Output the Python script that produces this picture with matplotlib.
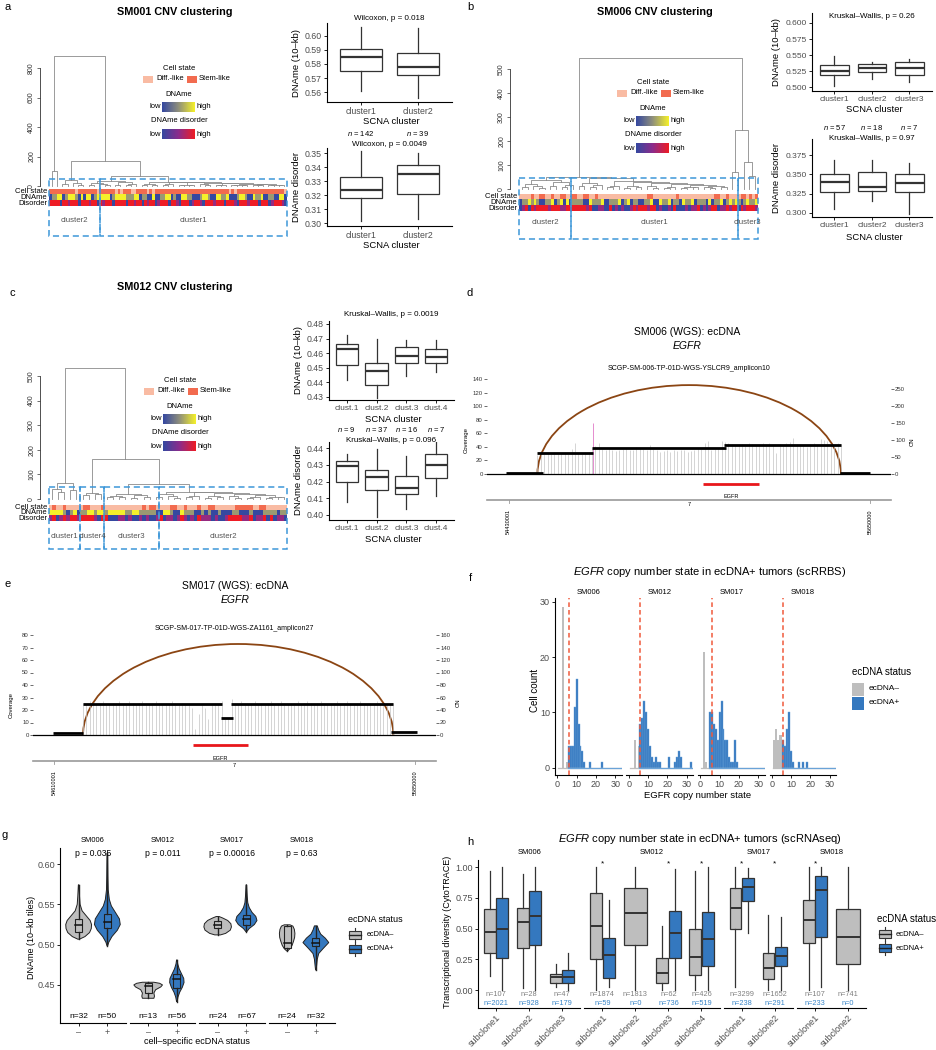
import numpy as np
import matplotlib
matplotlib.use("Agg")
import matplotlib.pyplot as plt
import matplotlib.transforms as mtrans
from matplotlib.colors import LinearSegmentedColormap, to_rgb
from matplotlib.patches import Rectangle, Arc

plt.rcParams["font.family"] = ["Liberation Sans", "DejaVu Sans"]
plt.rcParams["mathtext.fontset"] = "custom"
plt.rcParams["mathtext.rm"] = "Liberation Sans"
plt.rcParams["mathtext.it"] = "Liberation Sans:italic"

# ---------------- a-c: CNV clustering ----------------
# dendrogram node = [height, left, right], leaf = 0
a_tail = [15, [10, [6, 0, 0], [7, 0, 0]], [12, [8, 0, [5, 0, 0]], [9, [4, 0, 0], [6, 0, 0]]]]
a_ladder = [30, [12, [6, 0, 0], [9, 0, 0]],
            [27, [11, [7, 0, 0], 0],
             [24, [10, [5, 0, 0], [8, 0, 0]],
              [21, [12, 0, [6, 0, 0]],
               [18, [9, [4, 0, 0], 0], a_tail]]]]]
a_tree = [880, [105, 0, 0],
          [170, [40, [15, 0, 0], [22, 0, [9, 0, 0]]],
           [70, [33, [20, [8, 0, 0], [12, 0, [5, 0, 0]]], [26, [10, 0, 0], [14, [6, 0, 0], 0]]],
            a_ladder]]]

b_tail = [17, [10, [6, 0, 0], [7, 0, 0]], [14, [8, 0, [5, 0, 0]], [9, 0, 0]]]
b_ladder = [45, [25, [12, 0, 0], [16, [7, 0, 0], 0]],
            [32, [14, [9, 0, 0], 0],
             [28, [11, [6, 0, 0], [8, 0, 0]],
              [24, [13, 0, [5, 0, 0]],
               [20, [9, [4, 0, 0], 0], b_tail]]]]]
b_left = [38, [22, [10, 0, 0], [14, 0, [6, 0, 0]]], [30, [12, 0, 0], [18, [8, 0, 0], 0]]]
b_tree = [546, [50, b_left, b_ladder], [246, [70, 0, 0], [112, 0, [55, 0, 0]]]]

c_tail = [16, [9, [4, 0, 0], 0], [10, [6, 0, 0], [8, 0, 0]]]
c_ladder = [30, [20, [9, 0, 0], [12, 0, [5, 0, 0]]],
            [27, [14, [8, 0, 0], 0],
             [24, [11, [6, 0, 0], [7, 0, 0]],
              [20, [12, 0, [5, 0, 0]], c_tail]]]]
c_tree = [532, [65, [40, 0, [30, 0, 0]], [35, 0, 0]],
          [163, [25, [18, 0, 0], [20, 0, 0]],
           [61, [20, [14, [8, 0, 0], [10, 0, 0]], [16, [6, 0, 0], [9, 0, 0]]], c_ladder]]]

# heatmap tracks: S = stem-like, D = diff.-like; digits 0 (low) .. 9 (high)
a_state = "SSSSSSSSSS DSSSSSSSDS SSSSSDSDSS SDDSSSSDSD SSSSSSSSSS SSSSSSSSSS SSSSSSSSDS DSSSSSSSSS SSSSSSSSSD"
a_dname = "0559905999 5090990599 9990599995 5599055009 0055990500 9955000599 5009955900 0599500955 9005500990"
a_disorder = "9999099599 9099959909 5999099990 9959909599 0599909950 9990599509 9959990999 5099959990 9990599950"
b_state = "DDDDSDDSSD DSDDSSDDSS DDSSDDSDDD DDDDDDDDDD DDDDSSDDDD DDDDSDDDDD DDDDDDDSSD DSDDDDSSDS DS"
b_dname = "0559595005 5905909055 5500955590 0555905905 5005590095 5905509559 0555090559 0595950595 59"
b_disorder = "0590959999 5999559999 9995900550 0905050059 5999599050 0509000505 5905059905 5959909599 95"
c_state = "DSDDSDDDDD SSDDDSDDDD DDDDDDDSDS SDDDDSSDDS DDDSDDSSDD DDDDSSSSSD DSSDDDDDD"
c_dname = "9999505905 5995995999 9955995555 5009950095 5500505005 0005500050 005555055"
c_disorder = "5905959959 9995099000 5505005050 0590550595 0509555050 0599995590 559090550"

a_clusters = ["cluster2", "cluster1"]
a_sizes = [39, 142]
b_clusters = ["cluster2", "cluster1", "cluster3"]
b_sizes = [18, 57, 7]
c_clusters = ["cluster1", "cluster4", "cluster3", "cluster2"]
c_sizes = [9, 7, 16, 37]

a_names = ["cluster1", "cluster2"]
a_n = [142, 39]
a_dname_lo = [0.561, 0.5555]
a_dname_q1 = [0.5752, 0.5722]
a_dname_med = [0.585, 0.5779]
a_dname_q3 = [0.5905, 0.5876]
a_dname_hi = [0.6062, 0.6055]
a_dis_lo = [0.3012, 0.3031]
a_dis_q1 = [0.3179, 0.321]
a_dis_med = [0.3238, 0.335]
a_dis_q3 = [0.3326, 0.3414]
a_dis_hi = [0.3512, 0.350]

b_names = ["cluster1", "cluster2", "cluster3"]
b_n = [57, 18, 7]
b_dname_lo = [0.501, 0.513, 0.508]
b_dname_q1 = [0.519, 0.524, 0.519]
b_dname_med = [0.525, 0.530, 0.529]
b_dname_q3 = [0.534, 0.536, 0.539]
b_dname_hi = [0.549, 0.539, 0.544]
b_dis_lo = [0.305, 0.316, 0.299]
b_dis_q1 = [0.327, 0.329, 0.327]
b_dis_med = [0.340, 0.334, 0.339]
b_dis_q3 = [0.351, 0.353, 0.351]
b_dis_hi = [0.368, 0.368, 0.365]

c_names = ["clust.1", "clust.2", "clust.3", "clust.4"]
c_n = [9, 37, 16, 7]
c_dname_lo = [0.4415, 0.4295, 0.4445, 0.447]
c_dname_q1 = [0.452, 0.4385, 0.4535, 0.453]
c_dname_med = [0.4625, 0.4475, 0.458, 0.4575]
c_dname_q3 = [0.466, 0.453, 0.464, 0.463]
c_dname_hi = [0.4725, 0.470, 0.469, 0.469]
c_dis_lo = [0.4075, 0.399, 0.4035, 0.4115]
c_dis_q1 = [0.4195, 0.415, 0.4125, 0.422]
c_dis_med = [0.4295, 0.4225, 0.416, 0.430]
c_dis_q3 = [0.432, 0.427, 0.423, 0.4365]
c_dis_hi = [0.4365, 0.4395, 0.4355, 0.4445]

# ---------------- d-e: amplicon plots ----------------
d_seg_start = [54422100, 54526900, 54709400, 55156600, 55548600]
d_seg_end = [54546000, 54712800, 55162200, 55550900, 55650000]
d_seg_cn = [3, 63, 75.5, 86, 3]
d_cov_range = [54527000, 55551000]
d_cov = [28, 30, 29, 31, 30, 32, 29, 31, 33, 30, 37, 45, 31, 30, 32, 33,
         38, 41, 46, 37, 36, 38, 35, 34, 36, 37, 38, 36, 35, 40, 38, 37, 36, 43, 37, 35,
         33, 34, 36, 33, 35, 34, 36, 35, 33, 34, 36, 38, 37, 46, 48, 36, 37, 38, 49, 47,
         45, 44, 42, 43, 44, 41, 45, 44, 43, 42, 46, 44, 45, 43, 31, 44, 42, 45, 47, 53,
         44, 43, 42, 40, 44, 45, 43, 52, 50, 49, 44, 43, 45, 44]
d_arc = [54526900, 55550900]
d_arc_height = 131
d_spike_pos = 54712800
d_spike_height = 75
d_gene = [55086725, 55275031]
d_ticks = [54430001, 55650000]

e_seg_start = [54606600, 54709600, 55182500, 55216900, 55765300]
e_seg_end = [54709600, 55188200, 55224900, 55774500, 55854600]
e_seg_cn = [2.6, 49.6, 27.7, 49.6, 5.3]
e_cov_range = [54709600, 55774500]
e_cov = [26, 25, 27, 26, 25, 26, 27, 26, 25, 26, 26, 27, 25, 26, 27, 26, 25, 26, 27, 26,
         25, 26, 27, 26, 25, 26, 25, 27, 26, 24, 26, 25, 24, 22, 5, 17, 24, 22, 13, 24,
         26, 25, 27, 13, 14,
         29, 26, 25, 27, 26, 25, 26, 27, 25, 26, 24, 26, 27, 25, 26, 27, 26, 25, 26, 26,
         27, 25, 26, 27, 26, 25, 26, 27, 26, 25, 26, 26, 27, 25, 26, 27, 26, 25, 26, 27,
         26, 25, 26, 25, 27, 26, 25, 26, 25, 26]
e_arc = [54709600, 55774500]
e_arc_height = 72.8
e_gene = [55086725, 55275031]
e_ticks = [54610001, 55850000]

# ---------------- f: copy number histograms ----------------
f_samples = ["SM006", "SM012", "SM017", "SM018"]
f_neg_cn = [[3, 5, 6], [3, 5, 6], [2, 3], [1, 2, 3, 4, 5]]
f_neg_count = [[29, 1, 2], [5, 4, 4], [21, 1], [5, 7, 5, 6, 6]]
f_pos_cn = [[6, 7, 8, 9, 10, 11, 12, 13, 14, 17, 23],
            [6, 7, 8, 9, 10, 11, 12, 13, 14, 15, 16, 21, 24, 25, 26, 27, 32],
            [5, 6, 7, 8, 9, 10, 11, 12, 13, 14, 15, 16, 17, 18, 19],
            [6, 7, 8, 9, 10, 11, 14, 16, 18]]
f_pos_count = [[4, 4, 4, 11, 16, 8, 4, 3, 1, 1, 1],
               [8, 9, 12, 10, 7, 4, 2, 1, 2, 1, 1, 2, 1, 2, 3, 2, 1],
               [10, 10, 8, 7, 5, 10, 12, 7, 5, 5, 2, 1, 1, 5, 1],
               [5, 4, 7, 10, 3, 1, 1, 1, 1]]
f_cutoff = 5.8

# ---------------- g: violins ----------------
g_samples = ["SM006", "SM012", "SM017", "SM018"]
g_pvals = ["p = 0.035", "p = 0.011", "p = 0.00016", "p = 0.63"]
g_n_neg = [32, 13, 24, 24]
g_n_pos = [50, 56, 67, 32]
g_neg_q1 = [0.5163, 0.4396, 0.5204, 0.4956]
g_neg_med = [0.5246, 0.4492, 0.5246, 0.5018]
g_neg_q3 = [0.5316, 0.4529, 0.5295, 0.5233]
g_pos_q1 = [0.5204, 0.4459, 0.5246, 0.4985]
g_pos_med = [0.5275, 0.4570, 0.5316, 0.5026]
g_pos_q3 = [0.5382, 0.4637, 0.5370, 0.5080]
g_neg_y = [[0.5068, 0.510, 0.515, 0.520, 0.525, 0.530, 0.536, 0.542, 0.550, 0.560, 0.5743],
           [0.4334, 0.436, 0.440, 0.444, 0.4475, 0.450, 0.452, 0.4533],
           [0.5121, 0.514, 0.518, 0.522, 0.526, 0.530, 0.533, 0.5349],
           [0.4923, 0.495, 0.499, 0.504, 0.509, 0.514, 0.519, 0.523, 0.5246]]
g_neg_w = [[0.03, 0.22, 0.38, 0.44, 0.45, 0.40, 0.26, 0.12, 0.05, 0.03, 0.01],
           [0.20, 0.22, 0.20, 0.26, 0.44, 0.50, 0.40, 0.20],
           [0.10, 0.28, 0.44, 0.48, 0.46, 0.35, 0.18, 0.05],
           [0.02, 0.10, 0.17, 0.22, 0.26, 0.27, 0.25, 0.20, 0.10]]
g_pos_y = [[0.4985, 0.503, 0.510, 0.518, 0.525, 0.532, 0.540, 0.548, 0.556, 0.568, 0.585, 0.600, 0.6137],
           [0.4293, 0.435, 0.441, 0.447, 0.453, 0.458, 0.464, 0.470, 0.476, 0.481],
           [0.5163, 0.520, 0.525, 0.530, 0.535, 0.540, 0.546, 0.552, 0.560, 0.5743],
           [0.4686, 0.475, 0.482, 0.489, 0.495, 0.5026, 0.508, 0.513, 0.518, 0.5233]]
g_pos_w = [[0.01, 0.05, 0.16, 0.35, 0.45, 0.42, 0.28, 0.14, 0.07, 0.03, 0.02, 0.015, 0.01],
           [0.01, 0.04, 0.10, 0.19, 0.25, 0.24, 0.16, 0.08, 0.03, 0.01],
           [0.02, 0.10, 0.28, 0.37, 0.33, 0.20, 0.10, 0.05, 0.03, 0.01],
           [0.01, 0.03, 0.05, 0.10, 0.25, 0.45, 0.33, 0.17, 0.10, 0.05]]

# ---------------- h: CytoTRACE boxes ----------------
h_samples = ["SM006", "SM012", "SM017", "SM018"]
h_nclones = [3, 4, 2, 2]
h_clone = ["subclone1", "subclone2", "subclone3", "subclone1", "subclone2", "subclone3",
           "subclone4", "subclone1", "subclone2", "subclone1", "subclone2"]
h_neg_lo = [0.117, 0.019, 0.027, 0.0, 0.0, 0.0, 0.0, 0.027, 0.0, 0.0, 0.0]
h_neg_q1 = [0.298, 0.339, 0.057, 0.249, 0.366, 0.054, 0.119, 0.496, 0.087, 0.385, 0.211]
h_neg_med = [0.474, 0.556, 0.108, 0.520, 0.629, 0.141, 0.271, 0.664, 0.182, 0.569, 0.434]
h_neg_q3 = [0.661, 0.667, 0.133, 0.786, 0.827, 0.263, 0.493, 0.827, 0.298, 0.732, 0.656]
h_neg_hi = [0.967, 0.943, 0.209, 1.0, 1.0, 0.518, 0.970, 1.0, 0.610, 1.0, 1.0]
h_pos_lo = [0.0, 0.0, 0.0, 0.022, None, 0.0, 0.0, 0.461, 0.0, 0.027, None]
h_pos_q1 = [0.263, 0.366, 0.057, 0.100, None, 0.263, 0.198, 0.726, 0.192, 0.434, None]
h_pos_med = [0.499, 0.604, 0.106, 0.287, None, 0.461, 0.415, 0.840, 0.276, 0.813, None]
h_pos_q3 = [0.745, 0.808, 0.163, 0.420, None, 0.645, 0.631, 0.913, 0.352, 0.927, None]
h_pos_hi = [1.0, 1.0, 0.304, 0.732, None, 0.984, 1.0, 0.995, 0.591, 1.0, None]
h_n_neg = [107, 28, 47, 1874, 1813, 62, 426, 3299, 1652, 107, 741]
h_n_pos = [2021, 928, 179, 59, 0, 736, 519, 238, 291, 233, 0]
h_star = [0, 0, 0, 1, 0, 1, 1, 1, 1, 1, 0]

# ---------------- styles ----------------
STEM = "#f26b4f"
DIFF = "#f9bba3"
GREY = "#bebebe"
BLUE = "#3478bf"
BLUE_LINE = "#6aa3d8"
DASH_BLUE = "#3d97d9"
TICK = "#4d4d4d"
DARK = "#333333"
dname_cmap = LinearSegmentedColormap.from_list("dname", ["#3548a0", "#8f8f7c", "#f4f02a"])
dis_cmap = LinearSegmentedColormap.from_list("dis", ["#3548a0", "#8b2c8c", "#ee1c25"])

W, H = 937, 1050
fig = plt.figure(figsize=(W / 100, H / 100), dpi=100)


def px_axes(x0, y0, x1, y1):
    return fig.add_axes([x0 / W, 1 - y1 / H, (x1 - x0) / W, (y1 - y0) / H])


ov = px_axes(0, 0, W, H)
ov.set_zorder(50)
ov.axis("off")


def T(x, y, s, size=6, **kw):
    kw.setdefault("ha", "center")
    kw.setdefault("va", "center")
    return ov.text(x, y, s, fontsize=size, **kw)


def blend(ax):
    return mtrans.blended_transform_factory(ax.transData, ov.transData)


def classic(ax, left=True, size=6.5):
    ax.spines["top"].set_visible(False)
    ax.spines["right"].set_visible(False)
    ax.spines["left"].set_visible(left)
    for s in ["left", "bottom"]:
        ax.spines[s].set_linewidth(0.8)
    ax.tick_params(length=2.5, width=0.6, labelsize=size, labelcolor=TICK, pad=1.2)
    if not left:
        ax.tick_params(axis="y", left=False, labelleft=False)
    ax.patch.set_alpha(0)


def count_leaves(node):
    return 1 if node == 0 else count_leaves(node[1]) + count_leaves(node[2])


def draw_tree(ax, node, pos):
    if node == 0:
        pos[0] += 1
        return pos[0] - 0.5, 0.0
    h, left, right = node
    xl, hl = draw_tree(ax, left, pos)
    xr, hr = draw_tree(ax, right, pos)
    ax.plot([xl, xl, xr, xr], [hl, h, h, hr], color="#8a8a8a", lw=0.6, clip_on=False)
    return (xl + xr) / 2, h


def cnv_panel(title, title_xy, tree, state, dname, disorder, clusters, sizes,
              x0, x1, y_top, y_zero, tick_max, tick_px, tick_step,
              hm, box_y, lab_y, leg):
    T(title_xy[0], title_xy[1], title, 7.8, fontweight="bold")
    ax = px_axes(x0, y_top, x1, y_zero)
    n = count_leaves(tree)
    draw_tree(ax, tree, [0])
    ax.set_xlim(0, n)
    ax.set_ylim(0, tick_max * (y_zero - y_top) / (y_zero - tick_px))
    for s in ["top", "right", "bottom"]:
        ax.spines[s].set_visible(False)
    ax.spines["left"].set_position(("outward", 6.5))
    ax.spines["left"].set_bounds(0, tick_max)
    ax.spines["left"].set_linewidth(0.6)
    ax.spines["left"].set_color(DARK)
    ticks = list(range(0, tick_max + 1, tick_step))
    ax.set_yticks(ticks)
    ax.set_yticklabels([str(t) for t in ticks], rotation=90, va="center", fontsize=5, color=DARK)
    ax.tick_params(axis="y", length=2.5, width=0.5, pad=1, color=DARK)
    ax.set_xticks([])
    ax.patch.set_alpha(0)

    hx = px_axes(x0, hm[0], x1, hm[1])
    rows = [[to_rgb(STEM if c == "S" else DIFF) for c in state.replace(" ", "")],
            [dname_cmap(int(c) / 9)[:3] for c in dname.replace(" ", "")],
            [dis_cmap(int(c) / 9)[:3] for c in disorder.replace(" ", "")]]
    for i, row in enumerate(rows):
        hx.imshow(np.array([row]), aspect="auto", interpolation="nearest", extent=(0, 1, i + 1, i))
    hx.set_xlim(0, 1)
    hx.set_ylim(3, 0)
    hx.axis("off")
    rh = (hm[1] - hm[0]) / 3
    for i, lab in enumerate(["Cell state", "DNAme", "Disorder"]):
        T(x0 - 2, hm[0] + rh * (i + 0.5), lab, 5.5, ha="right")

    edges = np.concatenate([[0], np.cumsum(sizes)]) / sum(sizes)
    for name, a, b in zip(clusters, edges[:-1], edges[1:]):
        xa = x0 + a * (x1 - x0)
        xb = x0 + b * (x1 - x0)
        ov.add_patch(Rectangle((xa, box_y[0]), xb - xa, box_y[1] - box_y[0], fill=False,
                               ec=DASH_BLUE, lw=1.1, ls=(0, (4, 2.5))))
        T((xa + xb) / 2, lab_y, name, 5.7, color="#555555")

    cx, ly = leg
    T(cx, ly, "Cell state", 5.5)
    ov.add_patch(Rectangle((cx - 36, ly + 7.5), 10, 7, fc=DIFF, ec="none"))
    T(cx - 23, ly + 11, "Diff.-like", 5.5, ha="left")
    ov.add_patch(Rectangle((cx + 8, ly + 7.5), 10, 7, fc=STEM, ec="none"))
    T(cx + 20, ly + 11, "Stem-like", 5.5, ha="left")
    grad = np.linspace(0, 1, 64)[None, :]
    for k, (lab, cmap) in enumerate([("DNAme", dname_cmap), ("DNAme disorder", dis_cmap)]):
        yy = ly + 26 + k * 27
        T(cx, yy, lab, 5.5)
        ov.imshow(grad, cmap=cmap, aspect="auto", extent=(cx - 17, cx + 16, yy + 18, yy + 8))
        T(cx - 18, yy + 13, "low", 5.5, ha="right")
        T(cx + 18, yy + 13, "high", 5.5, ha="left")


def box_panel(rect, lo, q1, med, q3, hi, names, ylim, yticks, fmt, ylab, ylab_xy, title, title_y,
              xlab_y, ns=None, n_y=None, xsize=6.3, ysize=6.3):
    ax = px_axes(*rect)
    stats = [dict(whislo=a, q1=b, med=c, q3=d, whishi=e, fliers=[])
             for a, b, c, d, e in zip(lo, q1, med, q3, hi)]
    pos = np.arange(1, len(stats) + 1)
    ax.bxp(stats, positions=pos, widths=0.75, patch_artist=True, showcaps=False,
           boxprops=dict(facecolor="white", edgecolor=DARK, linewidth=0.9),
           medianprops=dict(color=DARK, linewidth=1.6),
           whiskerprops=dict(color=DARK, linewidth=0.9))
    ax.set_xlim(0.4, len(stats) + 0.6)
    ax.set_ylim(*ylim)
    ax.set_yticks(yticks)
    ax.set_yticklabels([fmt % t for t in yticks])
    ax.set_xticks(pos)
    ax.set_xticklabels(names)
    classic(ax)
    ax.tick_params(axis="y", labelsize=ysize)
    ax.tick_params(axis="x", labelsize=xsize, pad=1)
    cx = (rect[0] + rect[2]) / 2
    T(cx, title_y, title, 5.8)
    T(cx + 2, xlab_y, "SCNA cluster", 6.8)
    T(ylab_xy[0], ylab_xy[1], ylab, 6.8, rotation=90)
    if ns is not None:
        for p, n in zip(pos, ns):
            ov.text(p, n_y, r"$\mathit{n}$ = %d" % n, fontsize=5.5, ha="center", va="center",
                    transform=blend(ax))
    return ax


# ---- a ----
T(8, 7, "a", 8)
cnv_panel("SM001 CNV clustering", (175, 12), a_tree, a_state, a_dname, a_disorder, a_clusters, a_sizes,
          49, 287, 50, 186, 800, 68, 200, (189, 206), (179, 236), 220, (179, 68))
box_panel((327, 23, 452, 102), a_dname_lo, a_dname_q1, a_dname_med, a_dname_q3, a_dname_hi, a_names,
          (0.553, 0.609), [0.56, 0.57, 0.58, 0.59, 0.60], "%.2f", "DNAme (10–kb)", (297, 63),
          "Wilcoxon, p = 0.018", 19, 121)
box_panel((327, 148, 452, 226), a_dis_lo, a_dis_q1, a_dis_med, a_dis_q3, a_dis_hi, a_names,
          (0.2979, 0.3536), [0.30, 0.31, 0.32, 0.33, 0.34, 0.35], "%.2f", "DNAme disorder", (297, 187),
          "Wilcoxon, p = 0.0049", 145, 246, a_n, 133)

# ---- b ----
T(470, 7, "b", 8)
cnv_panel("SM006 CNV clustering", (655, 12), b_tree, b_state, b_dname, b_disorder, b_clusters, b_sizes,
          519, 758, 50, 189, 500, 69, 100, (194, 211), (178, 239), 223, (653, 82))
box_panel((812, 13, 932, 91), b_dname_lo, b_dname_q1, b_dname_med, b_dname_q3, b_dname_hi, b_names,
          (0.4938, 0.6156), [0.500, 0.525, 0.550, 0.575, 0.600], "%.3f", "DNAme (10–kb)", (777, 52),
          "Kruskal–Wallis, p = 0.26", 17, 110, xsize=6.0, ysize=6.0)
box_panel((812, 139, 932, 217), b_dis_lo, b_dis_q1, b_dis_med, b_dis_q3, b_dis_hi, b_names,
          (0.2948, 0.3957), [0.300, 0.325, 0.350, 0.375], "%.3f", "DNAme disorder", (777, 178),
          "Kruskal–Wallis, p = 0.97", 139, 237, b_n, 127, xsize=6.0, ysize=6.0)

# ---- c ----
T(12, 293, "c", 8)
cnv_panel("SM012 CNV clustering", (175, 287), c_tree, c_state, c_dname, c_disorder, c_clusters, c_sizes,
          49, 287, 355, 499, 500, 376, 100, (505, 521), (487, 549), 536, (180, 380))
box_panel((329, 321, 454, 400), c_dname_lo, c_dname_q1, c_dname_med, c_dname_q3, c_dname_hi, c_names,
          (0.4279, 0.482), [0.43, 0.44, 0.45, 0.46, 0.47, 0.48], "%.2f", "DNAme (10–kb)", (299, 360),
          "Kruskal–Wallis, p = 0.0019", 314, 420, xsize=6.0)
box_panel((329, 442, 454, 520), c_dis_lo, c_dis_q1, c_dis_med, c_dis_q3, c_dis_hi, c_names,
          (0.397, 0.4436), [0.40, 0.41, 0.42, 0.43, 0.44], "%.2f", "DNAme disorder", (299, 480),
          "Kruskal–Wallis, p = 0.096", 440, 540, c_n, 430, xsize=6.0)


# ---- d / e ----
def amplicon(rect, xlim, ylim, cov_ticks, cn_ticks, seg_s, seg_e, seg_cn, cov_range, cov,
             arc, arc_h, gene, gticks, gene_y, chrom_y, label, title_xy, sample, spike=None,
             ylab_xy=None, cn_xy=None):
    ax = px_axes(*rect)
    xs = np.linspace(cov_range[0], cov_range[1], len(cov))
    ax.vlines(xs, 0, cov, color="#c4c4c4", lw=0.5)
    if spike is not None:
        ax.vlines([spike[0]], 0, [spike[1]], color="#e58ccf", lw=0.7)
    ax.add_patch(Arc(((arc[0] + arc[1]) / 2, 0), arc[1] - arc[0], 2 * arc_h, theta1=0, theta2=180,
                     color="#8b4513", lw=1.3))
    ax.axhline(0, color="black", lw=0.9)
    ax.set_xlim(*xlim)
    ax.set_ylim(*ylim)
    ax.set_yticks(cov_ticks)
    ax.set_xticks([])
    ax2 = ax.twinx()
    ax2.hlines(seg_cn, seg_s, seg_e, color="black", lw=2)
    ax2.set_ylim(2 * ylim[0], 2 * ylim[1])
    ax2.set_yticks(cn_ticks)
    for a in (ax, ax2):
        for s in a.spines.values():
            s.set_visible(False)
        a.tick_params(axis="y", labelsize=4.3, length=2, width=0.5, pad=1, labelcolor=DARK, color=DARK)
        a.patch.set_alpha(0)
    tr = blend(ax)
    ov.plot(gene, [gene_y, gene_y], color="#e8161b", lw=2, transform=tr, solid_capstyle="butt")
    ov.text((gene[0] + gene[1]) / 2, gene_y + 13, "EGFR", fontsize=4, ha="center", va="center",
            transform=tr)
    ov.plot(xlim, [chrom_y, chrom_y], color="#9a9a9a", lw=1.2, transform=tr)
    for g in gticks:
        ov.plot([g, g], [chrom_y, chrom_y + 3], color="#9a9a9a", lw=0.6, transform=tr)
        ov.text(g, chrom_y + 9, str(g), fontsize=4, rotation=90, ha="center", va="top", transform=tr)
    ov.text((xlim[0] + xlim[1]) / 2, chrom_y + 4.5, "7", fontsize=4, ha="center", va="center", transform=tr)
    T(title_xy[0], title_xy[1], sample + " (WGS): ecDNA", 7.5)
    T(title_xy[0], title_xy[1] + 14, "EGFR", 7.5, style="italic")
    T((rect[0] + rect[2]) / 2, rect[1] - 4, label, 5)
    T(ylab_xy[0], ylab_xy[1], "Coverage", 4.3, rotation=90)
    T(cn_xy[0], cn_xy[1], "CN", 4.3, rotation=90)


T(470, 293, "d", 8)
amplicon((487, 372, 891, 478), (54356800, 55719800), (-5.9, 150.3), list(range(0, 141, 20)),
         list(range(0, 251, 50)), d_seg_start, d_seg_end, d_seg_cn, d_cov_range, d_cov,
         d_arc, d_arc_height, d_gene, d_ticks, 484, 500,
         "SCGP-SM-006-TP-01D-WGS-YSLCR9_amplicon10", (687, 332), "SM006",
         spike=(d_spike_pos, d_spike_height), ylab_xy=(466, 440), cn_xy=(912, 442))

T(8, 584, "e", 8)
amplicon((33, 632, 436, 739), (54537900, 55921000), (-3.2, 82.4), list(range(0, 81, 10)),
         list(range(0, 161, 20)), e_seg_start, e_seg_end, e_seg_cn, e_cov_range, e_cov,
         e_arc, e_arc_height, e_gene, e_ticks, 745, 761,
         "SCGP-SM-017-TP-01D-WGS-ZA1161_amplicon27", (235, 586), "SM017",
         ylab_xy=(11, 705), cn_xy=(458, 703))

# ---- f ----
T(470, 578, "f", 8)
T(710, 572, r"$\mathit{EGFR}$ copy number state in ecDNA+ tumors (scRRBS)", 8)
all_cn = sum(f_neg_cn, []) + sum(f_pos_cn, [])
f_lo, f_hi = min(all_cn) - 0.5, max(all_cn) + 1
for i, s in enumerate(f_samples):
    x0 = 555 + i * 71.5
    ax = px_axes(x0, 598, x0 + 67, 775)
    ax.plot([f_lo, f_hi], [0, 0], color=GREY, lw=0.9)
    ax.plot([min(f_pos_cn[i]) - 0.5, f_hi], [0, 0], color=BLUE_LINE, lw=0.9)
    ax.bar(f_neg_cn[i], f_neg_count[i], width=1, color=GREY)
    ax.bar(f_pos_cn[i], f_pos_count[i], width=1, color=BLUE, edgecolor=BLUE_LINE, lw=0.3)
    ax.axvline(f_cutoff, color="#f05a3c", lw=1.1, ls=(0, (3, 2)))
    ax.set_xlim(-1.2, 33.5)
    ax.set_ylim(-1.3, 30.7)
    ax.set_xticks([0, 10, 20, 30])
    ax.set_yticks([0, 10, 20, 30])
    classic(ax, left=(i == 0), size=6.5)
    T(x0 + 33.5, 593, s, 5.5)
T(535, 690, "Cell count", 7, rotation=90)
T(698, 796, "EGFR copy number state", 6.8)
T(852, 672, "ecDNA status", 7, ha="left")
ov.add_patch(Rectangle((852, 683), 12, 13, fc=GREY, ec="none"))
ov.add_patch(Rectangle((852, 697), 12, 13, fc=BLUE, ec="none"))
T(869, 689, "ecDNA–", 6, ha="left")
T(869, 703, "ecDNA+", 6, ha="left")


def box_key(x, y, color):
    ov.add_patch(Rectangle((x, y + 3), 12, 8, fc=color, ec=DARK, lw=0.8))
    ov.plot([x, x + 12], [y + 7, y + 7], color="#222222", lw=1.0)
    ov.plot([x + 6, x + 6], [y, y + 3], color=DARK, lw=0.8)
    ov.plot([x + 6, x + 6], [y + 11, y + 14], color=DARK, lw=0.8)


# ---- g ----
T(5, 835, "g", 8)
for i, s in enumerate(g_samples):
    x0 = 60 + i * 69.5
    ax = px_axes(x0, 848, x0 + 66, 1023)
    for xpos, ys, ws, q1, md, q3, col in [
            (1, g_neg_y[i], g_neg_w[i], g_neg_q1[i], g_neg_med[i], g_neg_q3[i], GREY),
            (2, g_pos_y[i], g_pos_w[i], g_pos_q1[i], g_pos_med[i], g_pos_q3[i], BLUE)]:
        ys = np.asarray(ys)
        ws = np.asarray(ws)
        ax.fill(np.concatenate([xpos - ws, (xpos + ws)[::-1]]), np.concatenate([ys, ys[::-1]]),
                fc=col, ec="#222222", lw=0.7)
        ax.plot([xpos, xpos], [ys[0], q1], color="#222222", lw=1.0)
        ax.plot([xpos, xpos], [q3, ys[-1]], color="#222222", lw=1.0)
        ax.add_patch(Rectangle((xpos - 0.12, q1), 0.24, q3 - q1, fc=col, ec="#222222", lw=0.8))
        ax.plot([xpos - 0.12, xpos + 0.12], [md, md], color="#111111", lw=1.1)
    ax.set_xlim(0.35, 2.65)
    ax.set_ylim(0.4027, 0.620)
    ax.set_xticks([1, 2])
    ax.set_xticklabels(["–", "+"])
    ax.set_yticks([0.45, 0.50, 0.55, 0.60])
    ax.set_yticklabels(["0.45", "0.50", "0.55", "0.60"])
    classic(ax, left=(i == 0), size=6.5)
    T(x0 + 33, 840, s, 5.5)
    T(x0 + 33, 853, g_pvals[i], 6.2)
    for xpos, n in [(1, g_n_neg[i]), (2, g_n_pos[i])]:
        ov.text(xpos, 1016, "n=%d" % n, fontsize=6, ha="center", va="center", transform=blend(ax))
T(32, 937, "DNAme (10–kb tiles)", 6.5, rotation=90)
T(197, 1042, "cell–specific ecDNA status", 6.5)
T(348, 920, "ecDNA status", 6.5, ha="left")
box_key(349, 928, GREY)
box_key(349, 942, BLUE)
T(367, 935, "ecDNA–", 5.3, ha="left")
T(367, 949, "ecDNA+", 5.3, ha="left")

# ---- h ----
T(470, 842, "h", 8)
T(700, 839, r"$\mathit{EGFR}$ copy number state in ecDNA+ tumors (scRNAseq)", 8)
unit = 33
x0 = 478
k = 0
for i, s in enumerate(h_samples):
    n = h_nclones[i]
    w = (n + 0.1) * unit
    ax = px_axes(x0, 860, x0 + w, 1008)
    for j in range(n):
        p = j + 1
        has_pos = h_pos_med[k] is not None
        neg = dict(whislo=h_neg_lo[k], q1=h_neg_q1[k], med=h_neg_med[k], q3=h_neg_q3[k],
                   whishi=h_neg_hi[k], fliers=[])
        groups = [(neg, GREY, p - 0.19 if has_pos else p, 0.36 if has_pos else 0.72)]
        if has_pos:
            pos_st = dict(whislo=h_pos_lo[k], q1=h_pos_q1[k], med=h_pos_med[k], q3=h_pos_q3[k],
                          whishi=h_pos_hi[k], fliers=[])
            groups.append((pos_st, BLUE, p + 0.19, 0.36))
        for st, col, xp, bw in groups:
            ax.bxp([st], positions=[xp], widths=bw, patch_artist=True, showcaps=False,
                   boxprops=dict(facecolor=col, edgecolor=DARK, linewidth=0.9),
                   medianprops=dict(color=DARK, linewidth=1.4),
                   whiskerprops=dict(color=DARK, linewidth=0.9))
        tr = blend(ax)
        ov.text(p, 995, "n=%d" % h_n_neg[k], fontsize=5.3, color="#808080", ha="center", va="center",
                transform=tr)
        ov.text(p, 1003.5, "n=%d" % h_n_pos[k], fontsize=5.3, color="#3a86c8", ha="center", va="center",
                transform=tr)
        if h_star[k]:
            ov.text(p, 864, "*", fontsize=6, ha="center", va="center", transform=tr)
        k += 1
    ax.set_xlim(0.45, n + 0.55)
    ax.set_ylim(-0.146, 1.057)
    ax.set_xticks(range(1, n + 1))
    ax.set_xticklabels(h_clone[k - n:k], rotation=45, ha="right", rotation_mode="anchor")
    ax.set_yticks([0, 0.25, 0.5, 0.75, 1.0])
    ax.set_yticklabels(["0.00", "0.25", "0.50", "0.75", "1.00"])
    classic(ax, left=(i == 0), size=6.5)
    T(x0 + w / 2, 853, s, 5.5)
    x0 += w + 4
T(448, 932, "Transcriptional diversity (CytoTRACE)", 6.5, rotation=90)
T(877, 919, "ecDNA status", 7, ha="left")
box_key(879, 927, GREY)
box_key(879, 941, BLUE)
T(896, 934, "ecDNA–", 5.5, ha="left")
T(896, 948, "ecDNA+", 5.5, ha="left")

ov.set_xlim(0, W)
ov.set_ylim(H, 0)
fig.savefig("out.png", dpi=100)
